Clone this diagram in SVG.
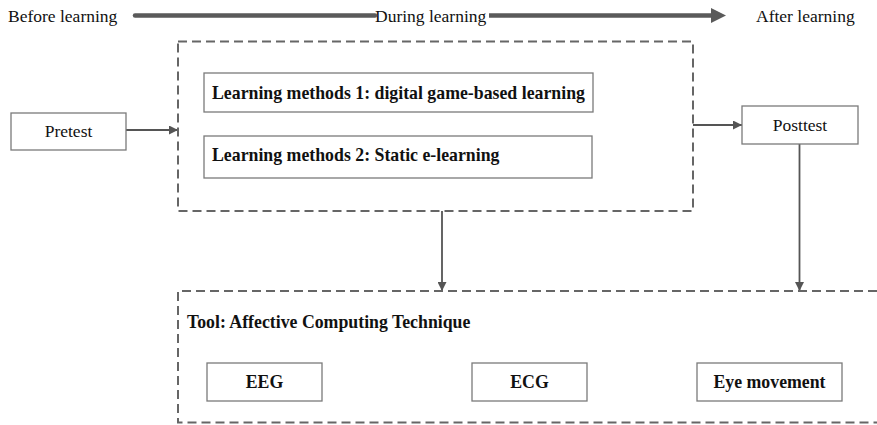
<svg xmlns="http://www.w3.org/2000/svg" width="877" height="425" viewBox="0 0 877 425">
<defs>
<style>
.t{font-family:"Liberation Serif","Times New Roman",serif;font-size:17.5px;fill:#111}
.b{font-family:"Liberation Serif","Times New Roman",serif;font-size:17.8px;font-weight:bold;fill:#111}
.box{fill:#fff;stroke:#7a7a7a;stroke-width:1.3}
.dash{fill:none;stroke:#666;stroke-width:2;stroke-dasharray:9 5}
.con{fill:none;stroke:#555;stroke-width:1.8}
</style>
<marker id="ah" viewBox="0 0 10 10" refX="10" refY="5" markerWidth="9" markerHeight="9" markerUnits="userSpaceOnUse" orient="auto"><path d="M0,0 L10,5 L0,10 z" fill="#555"/></marker>
</defs>
<rect width="877" height="425" fill="#fff"/>
<g id="timeline">
<text class="t" x="8" y="21.5">Before learning</text>
<text class="t" x="375" y="21.5">During learning</text>
<text class="t" x="756" y="21.5">After learning</text>
<line x1="135" y1="15.5" x2="375" y2="15.5" stroke="#5a5a5a" stroke-width="4.5" stroke-linecap="round"/>
<line x1="489" y1="15.5" x2="713" y2="15.5" stroke="#5a5a5a" stroke-width="4.5"/>
<path d="M711,8 L726,15.5 L711,23 z" fill="#5a5a5a"/>
</g>
<g id="connectors">
<line class="con" x1="126" y1="130" x2="178" y2="130" marker-end="url(#ah)"/>
<line class="con" x1="693" y1="125" x2="742" y2="125" marker-end="url(#ah)"/>
<line class="con" x1="442" y1="211" x2="442" y2="291" marker-end="url(#ah)"/>
<line class="con" x1="799.5" y1="144" x2="799.5" y2="291" marker-end="url(#ah)"/>
</g>
<g id="methods">
<rect class="dash" x="178" y="41.5" width="515" height="169.5"/>
</g>
<g id="pretest">
<rect class="box" x="11" y="113" width="115" height="37"/>
<text class="t" x="68.5" y="137" text-anchor="middle">Pretest</text>
</g>
<g id="method1">
<rect class="box" x="204" y="73" width="389" height="39"/>
<text class="b" x="212" y="98.5">Learning methods 1: digital game-based learning</text>
</g>
<g id="method2">
<rect class="box" x="204" y="136" width="388" height="42"/>
<text class="b" x="212" y="161">Learning methods 2: Static e-learning</text>
</g>
<g id="posttest">
<rect class="box" x="742" y="106" width="116" height="38"/>
<text class="t" x="800" y="131" text-anchor="middle">Posttest</text>
</g>
<g id="tool">
<path class="dash" d="M877,291 L178,291 L178,422.5 L877,422.5"/>
<text class="b" x="187" y="327.5">Tool: Affective Computing Technique</text>
</g>
<g id="eeg">
<rect class="box" x="207" y="363" width="115" height="38"/>
<text class="b" x="264.5" y="388" text-anchor="middle">EEG</text>
</g>
<g id="ecg">
<rect class="box" x="472" y="363" width="115" height="38"/>
<text class="b" x="529.5" y="388" text-anchor="middle">ECG</text>
</g>
<g id="eye">
<rect class="box" x="697" y="363" width="145" height="38"/>
<text class="b" x="769.5" y="388" text-anchor="middle">Eye movement</text>
</g>
</svg>
